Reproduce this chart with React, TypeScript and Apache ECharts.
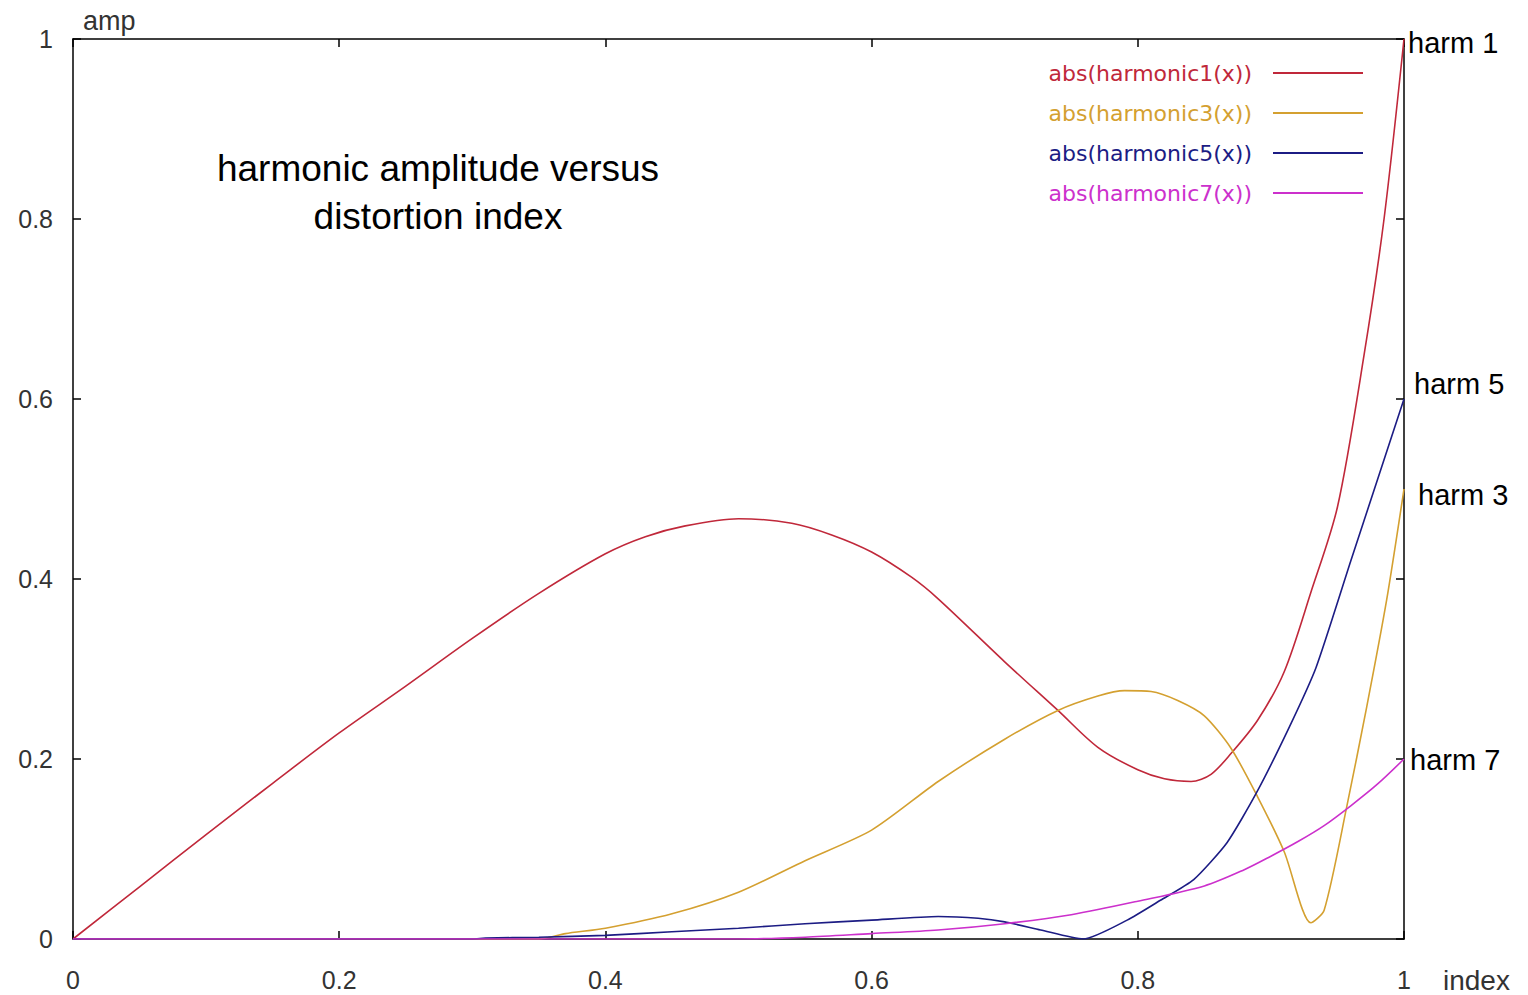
import React, { useEffect, useRef } from "react";
import * as echarts from "echarts";

// ---- data ----
const xTicks = [0, 0.2, 0.4, 0.6, 0.8, 1];
const yTicks = [0, 0.2, 0.4, 0.6, 0.8, 1];

const seriesNames = [
  "abs(harmonic1(x))",
  "abs(harmonic3(x))",
  "abs(harmonic5(x))",
  "abs(harmonic7(x))",
];
const endLabels = ["harm 1", "harm 3", "harm 5", "harm 7"];

const h1X = [0, 0.05, 0.1, 0.15, 0.2, 0.25, 0.3, 0.35, 0.4, 0.43, 0.46, 0.5, 0.54, 0.57, 0.6, 0.63, 0.65, 0.7, 0.74, 0.77, 0.8, 0.82, 0.84, 0.855, 0.87, 0.89, 0.91, 0.93, 0.95, 0.97, 0.985, 1.0];
const h1Y = [0, 0.058, 0.116, 0.173, 0.229, 0.281, 0.334, 0.384, 0.428, 0.447, 0.459, 0.467, 0.462, 0.449, 0.43, 0.402, 0.378, 0.308, 0.254, 0.213, 0.188, 0.178, 0.175, 0.183, 0.206, 0.243, 0.297, 0.385, 0.48, 0.649, 0.8, 1.0];

const h3X = [0, 0.35, 0.37, 0.4, 0.45, 0.5, 0.55, 0.6, 0.65, 0.7, 0.74, 0.77, 0.79, 0.81, 0.83, 0.85, 0.87, 0.89, 0.91, 0.93, 0.94, 0.957, 0.972, 0.987, 1.0];
const h3Y = [0, 0, 0.006, 0.012, 0.028, 0.052, 0.087, 0.121, 0.175, 0.222, 0.254, 0.27, 0.276, 0.275, 0.265, 0.248, 0.212, 0.158, 0.097, 0.018, 0.032, 0.147, 0.258, 0.377, 0.5];

const h5X = [0, 0.3, 0.31, 0.35, 0.4, 0.45, 0.5, 0.55, 0.6, 0.65, 0.68, 0.7, 0.727, 0.759, 0.792, 0.817, 0.842, 0.867, 0.889, 0.914, 0.934, 0.96, 0.98, 1.0];
const h5Y = [0, 0, 0.001, 0.002, 0.004, 0.008, 0.012, 0.017, 0.021, 0.025, 0.023, 0.019, 0.01, 0, 0.021, 0.043, 0.066, 0.107, 0.162, 0.236, 0.302, 0.42, 0.51, 0.6];

const h7X = [0, 0.5, 0.55, 0.6, 0.65, 0.7, 0.75, 0.8, 0.85, 0.88, 0.9, 0.92, 0.94, 0.96, 0.98, 1.0];
const h7Y = [0, 0, 0.002, 0.006, 0.01, 0.017, 0.027, 0.042, 0.059, 0.077, 0.092, 0.108, 0.126, 0.148, 0.172, 0.2];

const colors = ["#c0283a", "#d4a030", "#1c1c84", "#cc30cc"];
const smoothness = [0.3, 0.25, 0.2, 0.3];

const zip = (xs: number[], ys: number[]) => xs.map((x, i) => [x, ys[i]]);

export default function App() {
  const ref = useRef<HTMLDivElement>(null);

  useEffect(() => {
    if (!ref.current) return;
    const chart = echarts.init(ref.current, undefined, { renderer: "svg" });

    const allData = [zip(h1X, h1Y), zip(h3X, h3Y), zip(h5X, h5Y), zip(h7X, h7Y)];
    const labelOffsets = [[0, 4], [10, 6], [6, -15], [2, 1]];

    const axisLine = { show: true, onZero: false, lineStyle: { color: "#000", width: 1.5 } };
    const tick = { show: true, inside: true, length: 8, lineStyle: { color: "#000", width: 1.5 } };
    const labelStyle = { fontFamily: "Liberation Sans", fontSize: 25, color: "#333" };
    const fmt = (ticks: number[]) => (v: number) => (ticks.includes(+v.toFixed(1)) ? String(+v.toFixed(1)) : "");

    const option: any = {
      animation: false,
      backgroundColor: "#fff",
      grid: { left: 73, right: 124, top: 39, bottom: 56, containLabel: false },
      xAxis: [
        {
          type: "value", position: "bottom", min: 0, max: 1, interval: 0.2,
          axisLine, axisTick: tick, splitLine: { show: false },
          axisLabel: { ...labelStyle, margin: 28, formatter: fmt(xTicks) },
        },
        {
          type: "value", position: "top", min: 0, max: 1, interval: 0.2,
          axisLine, axisTick: tick, splitLine: { show: false }, axisLabel: { show: false },
        },
      ],
      yAxis: [
        {
          type: "value", position: "left", min: 0, max: 1, interval: 0.2,
          axisLine, axisTick: tick, splitLine: { show: false },
          axisLabel: { ...labelStyle, margin: 20, formatter: fmt(yTicks) },
        },
        {
          type: "value", position: "right", min: 0, max: 1, interval: 0.2,
          axisLine, axisTick: tick, splitLine: { show: false }, axisLabel: { show: false },
        },
      ],
      legend: {
        orient: "vertical",
        right: 160,
        top: 56,
        align: "right",
        icon: "rect",
        itemWidth: 90,
        itemHeight: 2,
        itemGap: 16,
        data: seriesNames.map((n, i) => ({
          name: n,
          textStyle: { color: colors[i], fontFamily: "DejaVu Sans", fontSize: 22, lineHeight: 24, padding: [0, 16, 0, 0] },
        })),
      },
      series: seriesNames.map((name, i) => ({
        name,
        type: "line",
        xAxisIndex: 0,
        yAxisIndex: 0,
        data: allData[i],
        showSymbol: false,
        symbol: "none",
        smooth: smoothness[i],
        lineStyle: { color: colors[i], width: 1.6 },
        itemStyle: { color: colors[i] },
        endLabel: {
          show: true,
          formatter: endLabels[i],
          fontFamily: "Liberation Sans",
          fontSize: 29,
          color: "#000",
          distance: 4,
          offset: labelOffsets[i],
        },
      })),
      graphic: [
        {
          type: "text",
          x: 438,
          y: 192,
          style: {
            text: "harmonic amplitude versus\ndistortion index",
            fontFamily: "Liberation Sans",
            fontSize: 37,
            lineHeight: 48,
            fill: "#000",
            align: "center",
            verticalAlign: "middle",
          },
        },
        {
          type: "text",
          x: 83,
          y: 21,
          style: { text: "amp", fontFamily: "Liberation Sans", fontSize: 27, fill: "#333", align: "left", verticalAlign: "middle" },
        },
        {
          type: "text",
          x: 1443,
          y: 980,
          style: { text: "index", fontFamily: "Liberation Sans", fontSize: 28, fill: "#333", align: "left", verticalAlign: "middle" },
        },
      ],
    };

    chart.setOption(option);
    return () => chart.dispose();
  }, []);

  return (
    <div
      ref={ref}
      style={{ position: "fixed", left: 0, top: 0, width: 1528, height: 995, background: "#fff" }}
    />
  );
}
